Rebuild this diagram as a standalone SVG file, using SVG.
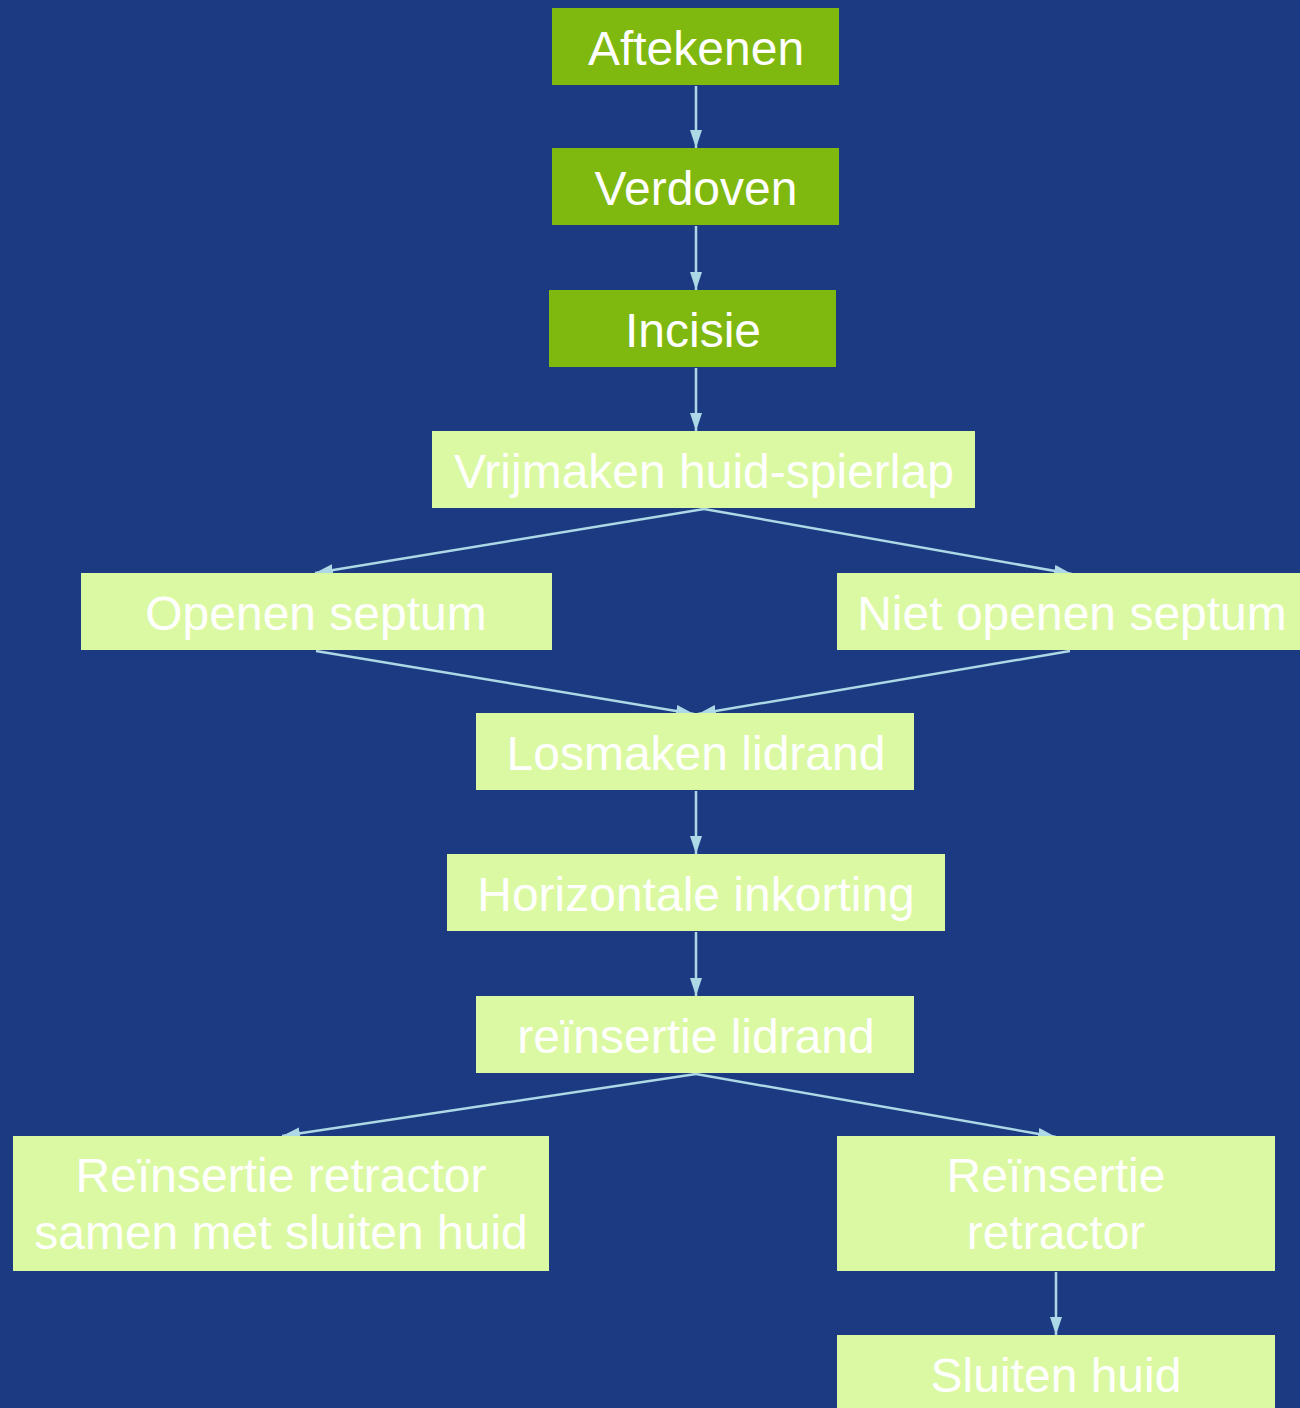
<svg xmlns="http://www.w3.org/2000/svg" width="1300" height="1408" viewBox="0 0 1300 1408">
<defs>
<marker id="arr" markerUnits="userSpaceOnUse" markerWidth="18" markerHeight="12" viewBox="0 0 18 12" refX="18" refY="6" orient="auto">
<path d="M0,0 L18,6 L0,12 Z" fill="#add8e6"/>
</marker>
<style>
.dk{fill:#7fb80e}
.lt{fill:#dbf9a2}
text{font-family:"Liberation Sans",Arial,sans-serif;font-size:48px;fill:#ffffff;text-anchor:middle}
.c{stroke:#add8e6;stroke-width:2.5;fill:none;marker-end:url(#arr)}
</style>
</defs>
<rect width="1300" height="1408" fill="#1c3a81"/>
<g id="connectors">
<line class="c" x1="696" y1="86" x2="696" y2="148"/>
<line class="c" x1="696" y1="226" x2="696" y2="290"/>
<line class="c" x1="696" y1="368" x2="696" y2="431"/>
<line class="c" x1="704" y1="509" x2="315" y2="573"/>
<line class="c" x1="704" y1="509" x2="1072" y2="574"/>
<line class="c" x1="316" y1="651" x2="694" y2="714"/>
<line class="c" x1="1070" y1="651" x2="698" y2="714"/>
<line class="c" x1="696" y1="791" x2="696" y2="854"/>
<line class="c" x1="696" y1="932" x2="696" y2="996"/>
<line class="c" x1="696" y1="1074" x2="282" y2="1136"/>
<line class="c" x1="696" y1="1074" x2="1056" y2="1137"/>
<line class="c" x1="1056" y1="1272" x2="1056" y2="1335"/>
</g>
<g id="n1"><rect class="dk" x="552" y="8" width="287" height="77"/><text x="696" y="65">Aftekenen</text></g>
<g id="n2"><rect class="dk" x="552" y="148" width="287" height="77"/><text x="696" y="205">Verdoven</text></g>
<g id="n3"><rect class="dk" x="549" y="290" width="287" height="77"/><text x="693" y="347">Incisie</text></g>
<g id="n4"><rect class="lt" x="432" y="431" width="543" height="77"/><text x="704" y="488">Vrijmaken huid-spierlap</text></g>
<g id="n5"><rect class="lt" x="81" y="573" width="471" height="77"/><text x="316" y="630">Openen septum</text></g>
<g id="n6"><rect class="lt" x="837" y="573" width="463" height="77"/><text x="1072" y="630">Niet openen septum</text></g>
<g id="n7"><rect class="lt" x="476" y="713" width="438" height="77"/><text x="696" y="770">Losmaken lidrand</text></g>
<g id="n8"><rect class="lt" x="447" y="854" width="498" height="77"/><text x="696" y="911">Horizontale inkorting</text></g>
<g id="n9"><rect class="lt" x="476" y="996" width="438" height="77"/><text x="696" y="1053">reïnsertie lidrand</text></g>
<g id="n10"><rect class="lt" x="13" y="1136" width="536" height="135"/><text x="281" y="1192">Reïnsertie retractor</text><text x="281" y="1249">samen met sluiten huid</text></g>
<g id="n11"><rect class="lt" x="837" y="1136" width="438" height="135"/><text x="1056" y="1192">Reïnsertie</text><text x="1056" y="1249">retractor</text></g>
<g id="n12"><rect class="lt" x="837" y="1335" width="438" height="80"/><text x="1056" y="1392">Sluiten huid</text></g>
</svg>
